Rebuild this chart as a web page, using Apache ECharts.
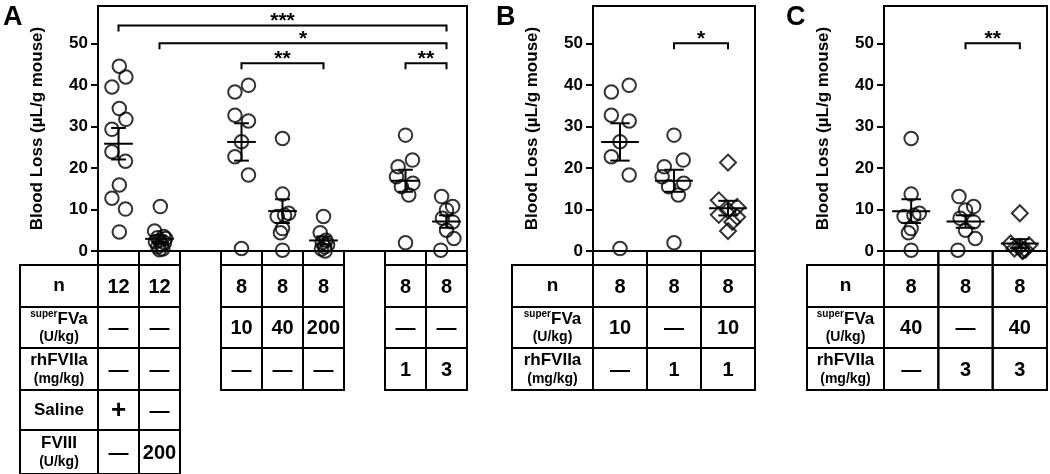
<!DOCTYPE html>
<html>
<head>
<meta charset="utf-8">
<script src="https://cdn.jsdelivr.net/npm/echarts@6/dist/echarts.min.js"></script>
<style>
  html, body { margin: 0; padding: 0; background: #fff; }
  #chart { width: 1050px; height: 474px; }
</style>
</head>
<body>
<div id="chart"></div>
<script>
// blood loss (uL/g mouse), one value per animal
const saline    = [44.5, 41.9, 39.5, 34.3, 31.7, 29.3, 23.9, 21.6, 15.9, 12.7, 10.1, 4.6];
const fviii200  = [10.7, 4.8, 3.5, 3.2, 3.0, 2.5, 2.2, 2.0, 1.5, 1.0, 0.5, 0.3];
const sfva10    = [38.3, 39.9, 32.7, 31.3, 26.3, 22.7, 18.3, 0.6];
const sfva40    = [27.1, 13.7, 9.1, 8.3, 8.6, 4.4, 5.4, 0.2];
const sfva200   = [8.3, 4.4, 2.6, 2.0, 1.5, 1.0, 0.5, 0.0];
const rh1       = [27.9, 21.9, 20.3, 17.9, 16.3, 15.5, 13.5, 2.0];
const rh3       = [13.1, 10.7, 9.9, 7.9, 7.0, 5.0, 3.0, 0.2];
const combo10_1 = [21.3, 12.2, 10.6, 9.8, 8.7, 8.2, 7.0, 4.8];
const combo40_3 = [9.1, 1.8, 1.4, 1.0, 0.6, 0.3, 0.1, 0.0];

// horizontal scatter of the dots, in fractions of a column
const salineJit    = [0.02, 0.18, -0.16, 0.02, 0.18, -0.16, -0.16, 0.17, 0.02, -0.16, 0.17, 0.02];
const fviii200Jit  = [0.02, -0.12, 0.1, -0.05, 0.15, 0.0, -0.1, 0.12, 0.05, -0.04, 0.08, 0.0];
const sfva10Jit    = [-0.16, 0.17, -0.16, 0.17, 0, -0.16, 0.17, 0];
const sfva40Jit    = [0, 0, 0.15, -0.13, 0.05, -0.05, 0, 0];
const sfva200Jit   = [0, -0.08, 0.06, -0.03, 0.1, 0.03, -0.05, 0.04];
const rh1Jit       = [0, 0.17, -0.18, -0.22, 0.18, -0.1, 0.08, 0];
const rh3Jit       = [-0.12, 0.15, 0, -0.1, 0.15, 0, 0.18, -0.14];
const combo10_1Jit = [0, -0.17, 0.17, 0, -0.17, 0.17, 0.08, 0];
const combo40_3Jit = [0, -0.17, 0.17, 0, -0.1, 0.1, 0.05, 0.05];

const yTicks = [0, 10, 20, 30, 40, 50];

// significance brackets: [from column, to column, height]
const sigA = [[0, 8, 54.3], [1, 8, 50.0], [3, 5, 45.2], [7, 8, 45.2]];
const sigAText = ['***', '*', '**', '**'];
const sigB = [[1, 2, 50.0]];
const sigBText = ['*'];
const sigC = [[1, 2, 50.0]];
const sigCText = ['**'];

// treatment tables
const nA      = ['12', '12', '', '8', '8', '8', '', '8', '8'];
const superA  = ['—', '—', '', '10', '40', '200', '', '—', '—'];
const rhA     = ['—', '—', '', '—', '—', '—', '', '1', '3'];
const salA    = ['+', '—', '', '', '', '', '', '', ''];
const fviiiA  = ['—', '200', '', '', '', '', '', '', ''];
const nB      = ['8', '8', '8'];
const superB  = ['10', '—', '10'];
const rhB     = ['—', '1', '1'];
const nC      = ['8', '8', '8'];
const superC  = ['40', '—', '40'];
const rhC     = ['—', '3', '3'];

const rowLabels = ['{n|n}', '{s|super}{b|FVa}\n{u|(U/kg)}', '{b|rhFVIIa}\n{u|(mg/kg)}', '{b|Saline}', '{b|FVIII}\n{u|(U/kg)}'];

const FONT = '"Liberation Sans", Arial, sans-serif';

const panels = [
  {letter: 'A', letterX: 3, left: 98, width: 369, labelLeft: 20,
   groups: [saline, fviii200, null, sfva10, sfva40, sfva200, null, rh1, rh3],
   jit: [salineJit, fviii200Jit, null, sfva10Jit, sfva40Jit, sfva200Jit, null, rh1Jit, rh3Jit],
   diamond: [],
   sig: sigA, sigText: sigAText, rows: [nA, superA, rhA, salA, fviiiA]},
  {letter: 'B', letterX: 496, left: 593, width: 162, labelLeft: 512,
   groups: [sfva10, rh1, combo10_1],
   jit: [sfva10Jit, rh1Jit, combo10_1Jit],
   diamond: [2],
   sig: sigB, sigText: sigBText, rows: [nB, superB, rhB]},
  {letter: 'C', letterX: 786, left: 884, width: 163, labelLeft: 807,
   groups: [sfva40, rh3, combo40_3],
   jit: [sfva40Jit, rh3Jit, combo40_3Jit],
   diamond: [2],
   sig: sigC, sigText: sigCText, rows: [nC, superC, rhC]},
];

const TOP = 6, HEIGHT = 245;
const TABLE_GAP = 14;
const ROW_H = [42, 41, 42, 40, 44];

const mean = a => a.reduce((s, v) => s + v, 0) / a.length;
const sem = a => {
  const m = mean(a);
  return Math.sqrt(a.reduce((s, v) => s + (v - m) * (v - m), 0) / (a.length - 1) / a.length);
};

const line = {stroke: '#000', lineWidth: 2};

function renderErr(params, api) {
  const x = api.value(0), m = api.value(1), s = api.value(2);
  const c = api.coord([x, m]), hi = api.coord([x, m + s]), lo = api.coord([x, m - s]);
  const w = api.size([1, 0])[0];
  const half = w * 0.35, cap = w * 0.18;
  return {type: 'group', children: [
    {type: 'line', shape: {x1: c[0] - half, y1: c[1], x2: c[0] + half, y2: c[1]}, style: line},
    {type: 'line', shape: {x1: c[0], y1: hi[1], x2: c[0], y2: lo[1]}, style: line},
    {type: 'line', shape: {x1: c[0] - cap, y1: hi[1], x2: c[0] + cap, y2: hi[1]}, style: line},
    {type: 'line', shape: {x1: c[0] - cap, y1: lo[1], x2: c[0] + cap, y2: lo[1]}, style: line},
  ]};
}

function bracket(texts) {
  return function (params, api) {
    const a = api.coord([api.value(0), api.value(2)]);
    const b = api.coord([api.value(1), api.value(2)]);
    return {type: 'group', children: [
      {type: 'polyline', shape: {points: [[a[0], a[1] + 6], [a[0], a[1]], [b[0], b[1]], [b[0], b[1] + 6]]},
       style: {stroke: '#000', lineWidth: 2, fill: null}},
      {type: 'text', x: (a[0] + b[0]) / 2, y: a[1] - 15,
       style: {text: texts[params.dataIndex], font: 'bold 21px ' + FONT, fill: '#000',
               align: 'center', verticalAlign: 'top', textAlign: 'center', textVerticalAlign: 'top'}},
    ]};
  };
}

const option = {animation: false, grid: [], xAxis: [], yAxis: [], series: [], graphic: []};

panels.forEach((p, g) => {
  option.grid.push({left: p.left, top: TOP, width: p.width, height: HEIGHT,
    show: true, borderColor: '#000', borderWidth: 2, backgroundColor: 'transparent'});
  option.xAxis.push({type: 'category', gridIndex: g, data: p.groups.map(() => ''),
    axisLine: {lineStyle: {color: '#000', width: 2}},
    axisTick: {alignWithLabel: true, length: 7, lineStyle: {color: '#000', width: 2}},
    axisLabel: {show: false}, splitLine: {show: false}});
  option.xAxis.push({type: 'value', gridIndex: g, min: -0.5, max: p.groups.length - 0.5, show: false});
  option.yAxis.push({type: 'value', gridIndex: g, min: 0, max: 59, interval: 10,
    name: 'Blood Loss (µL/g mouse)', nameLocation: 'middle', nameGap: 52,
    nameTextStyle: {fontFamily: FONT, fontWeight: 'bold', fontSize: 17, color: '#000'},
    axisLine: {show: true, onZero: false, lineStyle: {color: '#000', width: 2}},
    axisTick: {show: true, length: 7, customValues: yTicks, lineStyle: {color: '#000', width: 2}},
    axisLabel: {margin: 10, customValues: yTicks, fontFamily: FONT, fontWeight: 'bold', fontSize: 17, color: '#000'},
    splitLine: {show: false}});

  const circles = [], diamonds = [], bars = [];
  p.groups.forEach((vals, i) => {
    if (!vals) return;
    const target = p.diamond.includes(i) ? diamonds : circles;
    vals.forEach((v, k) => target.push([i + p.jit[i][k], v]));
    bars.push([i, mean(vals), sem(vals)]);
  });
  const dot = {color: 'rgba(0,0,0,0)', borderColor: '#000', borderWidth: 2};
  option.series.push({type: 'scatter', xAxisIndex: 2 * g + 1, yAxisIndex: g, data: circles,
    symbol: 'circle', symbolSize: 13.5, itemStyle: dot, clip: false, z: 2, silent: true});
  if (diamonds.length) {
    option.series.push({type: 'scatter', xAxisIndex: 2 * g + 1, yAxisIndex: g, data: diamonds,
      symbol: 'diamond', symbolSize: 16, itemStyle: dot, clip: false, z: 2, silent: true});
  }
  option.series.push({type: 'custom', xAxisIndex: 2 * g + 1, yAxisIndex: g, data: bars,
    renderItem: renderErr, clip: false, z: 3, silent: true});
  option.series.push({type: 'custom', xAxisIndex: 2 * g + 1, yAxisIndex: g, data: p.sig,
    renderItem: bracket(p.sigText), clip: false, z: 3, silent: true});
});

const chart = echarts.init(document.getElementById('chart'));
chart.setOption(option);

// tables under each panel, lined up with the category columns
const rich = {
  n: {fontFamily: FONT, fontWeight: 'bold', fontSize: 19},
  s: {fontFamily: FONT, fontWeight: 'bold', fontSize: 10, verticalAlign: 'top', lineHeight: 20},
  b: {fontFamily: FONT, fontWeight: 'bold', fontSize: 17, lineHeight: 20},
  u: {fontFamily: FONT, fontWeight: 'bold', fontSize: 14, lineHeight: 17},
};
const graphic = [];
panels.forEach((p, g) => {
  graphic.push({type: 'text', x: p.letterX, y: 4,
    style: {text: p.letter, font: 'bold 27px ' + FONT, fill: '#000'}});
  const axisY = chart.convertToPixel({yAxisIndex: g}, 0);
  const px = v => chart.convertToPixel({xAxisIndex: 2 * g + 1}, v);
  const tableTop = axisY + TABLE_GAP;
  let y = tableTop;
  p.rows.forEach((row, r) => {
    const h = ROW_H[r];
    graphic.push({type: 'rect', shape: {x: p.labelLeft, y: y, width: p.left - p.labelLeft, height: h},
      style: {fill: null, stroke: '#000', lineWidth: 2}});
    graphic.push({type: 'text', x: (p.labelLeft + p.left) / 2, y: y + h / 2,
      style: {text: rowLabels[r], rich: rich, fill: '#000',
              align: 'center', verticalAlign: 'middle', textAlign: 'center', textVerticalAlign: 'middle'}});
    row.forEach((cell, i) => {
      if (!cell) return;
      const x0 = px(i - 0.5), x1 = px(i + 0.5);
      graphic.push({type: 'rect', shape: {x: x0, y: y, width: x1 - x0, height: h},
        style: {fill: null, stroke: '#000', lineWidth: 2}});
      graphic.push({type: 'text', x: (x0 + x1) / 2, y: y + h / 2 + 1,
        style: {text: cell, font: 'bold ' + (cell === '+' ? 26 : 20) + 'px ' + FONT, fill: '#000',
                align: 'center', verticalAlign: 'middle', textAlign: 'center', textVerticalAlign: 'middle'}});
      if (r === 0) {
        graphic.push({type: 'line', shape: {x1: x0, y1: axisY, x2: x0, y2: tableTop}, style: line});
        graphic.push({type: 'line', shape: {x1: x1, y1: axisY, x2: x1, y2: tableTop}, style: line});
      }
    });
    y += h;
  });
});
chart.setOption({graphic: graphic});
</script>
</body>
</html>
